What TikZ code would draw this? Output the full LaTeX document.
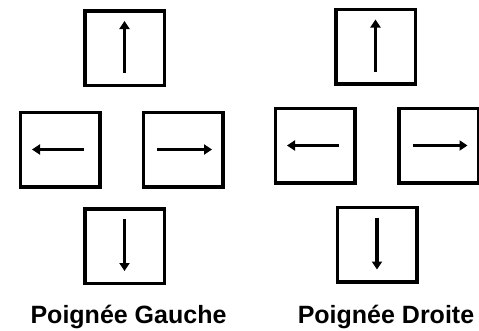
\documentclass[tikz,border=0pt]{standalone}
\usepackage{fontspec}
\setmainfont{Liberation Sans}
\usetikzlibrary{arrows.meta}
\begin{document}
\begin{tikzpicture}[x=1pt,y=-1pt,
  keybox/.style={draw,line width=3.5pt,inner sep=0pt,minimum width=79.5pt,minimum height=74.5pt},
  arr/.style={line width=3.5pt,-{Triangle[length=8pt,width=10pt]}},
  caption/.style={font=\bfseries\fontsize{25}{28}\selectfont,anchor=base,inner sep=0pt}]
\useasboundingbox (0,0) rectangle (479,330);
% left handle
\node[keybox] (lu) at (124.5,48) {};
\node[keybox] (ll) at (60,149.5) {};
\node[keybox] (lr) at (183,149.5) {};
\node[keybox] (ld) at (124.5,246) {};
\draw[arr] ([yshift=-25pt]lu.center) -- ([yshift=27pt]lu.center);
\draw[arr] ([xshift=24pt]ll.center) -- ([xshift=-28pt]ll.center);
\draw[arr] ([xshift=-26pt]lr.center) -- ([xshift=29pt]lr.center);
\draw[arr] ([yshift=27pt]ld.center) -- ([yshift=-25pt]ld.center);
\node[caption] (lt) at (128.5,323) {Poignée Gauche};
% right handle
\node[keybox] (ru) at (375.5,46.5) {};
\node[keybox] (rl) at (315,145.5) {};
\node[keybox] (rr) at (438.5,145.5) {};
\node[keybox] (rd) at (377,244.5) {};
\draw[arr] ([yshift=-25pt]ru.center) -- ([yshift=27pt]ru.center);
\draw[arr] ([xshift=24pt]rl.center) -- ([xshift=-28pt]rl.center);
\draw[arr] ([xshift=-26pt]rr.center) -- ([xshift=29pt]rr.center);
\draw[arr] ([yshift=27pt]rd.center) -- ([yshift=-25pt]rd.center);
\node[caption] (rt) at (386,323) {Poignée Droite};
\end{tikzpicture}
\end{document}
